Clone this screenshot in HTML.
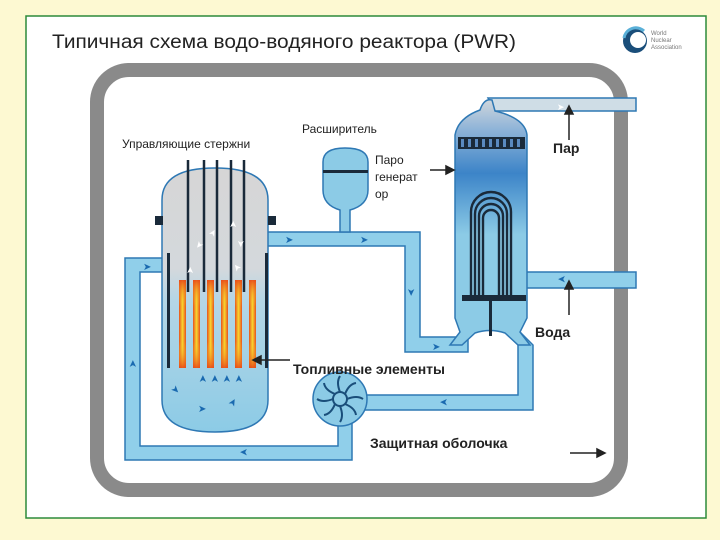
<!DOCTYPE html>
<html><head><meta charset="utf-8"><style>
html,body{margin:0;padding:0;background:#fdf9d2;}
svg{display:block;font-family:"Liberation Sans",sans-serif;}
</style></head><body>
<svg width="720" height="540" viewBox="0 0 720 540" xmlns="http://www.w3.org/2000/svg">
<defs>
<linearGradient id="rv" x1="0" y1="0" x2="0" y2="1">
<stop offset="0" stop-color="#d6d6d6"/><stop offset="0.38" stop-color="#d4d8dc"/><stop offset="0.5" stop-color="#b5d6e6"/><stop offset="1" stop-color="#8ccbe6"/></linearGradient>
<linearGradient id="fuel" x1="0" y1="0" x2="1" y2="0">
<stop offset="0" stop-color="#e8501c"/><stop offset="0.5" stop-color="#f8d830"/><stop offset="1" stop-color="#e8501c"/></linearGradient>
<linearGradient id="fuelv" x1="0" y1="0" x2="0" y2="1">
<stop offset="0" stop-color="#e84a18" stop-opacity="0.9"/><stop offset="0.3" stop-color="#f8d830" stop-opacity="0"/><stop offset="0.7" stop-color="#f8d830" stop-opacity="0"/><stop offset="1" stop-color="#e84a18" stop-opacity="0.9"/></linearGradient>
<linearGradient id="sg" x1="0" y1="0" x2="0" y2="1">
<stop offset="0" stop-color="#cfd6dc"/><stop offset="0.12" stop-color="#8fb4d8"/><stop offset="0.3" stop-color="#3c84c8"/><stop offset="0.55" stop-color="#8ccbe6"/><stop offset="1" stop-color="#8ccbe6"/></linearGradient>
</defs>
<rect x="26" y="16" width="680" height="502" fill="#fff" stroke="#2d8a3a" stroke-width="1.5"/>
<rect x="97" y="70" width="524" height="420" rx="32" fill="none" stroke="#8a8a8a" stroke-width="14"/>
<text x="52" y="48" font-size="19" fill="#222" textLength="464" lengthAdjust="spacingAndGlyphs">Типичная схема водо-водяного реактора (PWR)</text>
<circle cx="635" cy="41" r="12" fill="#1a4e7a"/><circle cx="638" cy="40" r="8" fill="#fff"/><path d="M624 38 a12 12 0 0 1 20 -7" stroke="#5ab0d8" stroke-width="3" fill="none"/>
<text x="651" y="35" font-size="6" fill="#777">World</text><text x="651" y="42" font-size="6" fill="#777">Nuclear</text><text x="651" y="49" font-size="6" fill="#777">Association</text>
<g fill="#90cfea" stroke="#2e78b4" stroke-width="1.5">
<path d="M125 258 H165 V272 H140 V446 H338 V420 H352 V460 H125 Z"/>
<path d="M265 232 H420 V337 H468 V352 H405 V246 H265 Z"/>
<path d="M518 330 L533 345 V410 H360 V395 H518 Z"/>
<path d="M525 272 H636 V288 H525 Z"/>
</g>
<path d="M488 98 H636 V111 H495 Z" fill="#cfdde6" stroke="#2e78b4" stroke-width="1.5"/>
<path d="M480 110 Q484 98 492 100 L495 111 Q525 118 527 135 V318 L520 332 L530 345 H518 L505 333 Q490 328 475 333 L462 345 H450 L460 332 L455 318 V135 Q458 118 480 110 Z" fill="url(#sg)" stroke="#2e78b4" stroke-width="1.5"/>
<g fill="#1a2a3a"><rect x="458" y="137" width="67" height="12"/></g>
<g fill="#5a8ac0"><rect x="461" y="139" width="3" height="8"/><rect x="468" y="139" width="3" height="8"/><rect x="475" y="139" width="3" height="8"/><rect x="482" y="139" width="3" height="8"/><rect x="489" y="139" width="3" height="8"/><rect x="496" y="139" width="3" height="8"/><rect x="503" y="139" width="3" height="8"/><rect x="510" y="139" width="3" height="8"/><rect x="517" y="139" width="3" height="8"/></g>
<g fill="none" stroke="#1a2a3a" stroke-width="2.4">
<path d="M471 298 V212 A20 20 0 0 1 511 212 V298"/>
<path d="M475 298 V214 A16 16 0 0 1 507 214 V298"/>
<path d="M479 298 V216 A12 12 0 0 1 503 216 V298"/>
<path d="M483 298 V218 A8 8 0 0 1 499 218 V298"/>
</g>
<rect x="462" y="295" width="64" height="6" fill="#1a2a3a"/>
<rect x="489" y="300" width="3" height="36" fill="#1a2a3a"/>
<path d="M340 220 V210 Q323 205 323 190 V162 Q323 148 345 148 Q368 148 368 162 V190 Q368 205 350 210 V232 H340 Z" fill="#8ccbe6" stroke="#2e78b4" stroke-width="1.5"/>
<rect x="323" y="170" width="45" height="3" fill="#1a2a3a"/>
<path d="M162 232 V200 Q162 168 215 168 Q268 168 268 200 V400 Q268 432 215 432 Q162 432 162 400 Z" fill="url(#rv)" stroke="#2e78b4" stroke-width="1.5"/>
<rect x="155" y="216" width="8" height="9" fill="#1a2a3a"/><rect x="268" y="216" width="8" height="9" fill="#1a2a3a"/>
<rect x="167" y="253" width="3" height="115" fill="#1a2a3a"/><rect x="265" y="253" width="3" height="115" fill="#1a2a3a"/>
<g>
<rect x="179" y="280" width="7" height="88" fill="url(#fuel)"/><rect x="193" y="280" width="7" height="88" fill="url(#fuel)"/><rect x="207" y="280" width="7" height="88" fill="url(#fuel)"/><rect x="221" y="280" width="7" height="88" fill="url(#fuel)"/><rect x="235" y="280" width="7" height="88" fill="url(#fuel)"/><rect x="249" y="280" width="7" height="88" fill="url(#fuel)"/>
<rect x="179" y="280" width="7" height="88" fill="url(#fuelv)"/><rect x="193" y="280" width="7" height="88" fill="url(#fuelv)"/><rect x="207" y="280" width="7" height="88" fill="url(#fuelv)"/><rect x="221" y="280" width="7" height="88" fill="url(#fuelv)"/><rect x="235" y="280" width="7" height="88" fill="url(#fuelv)"/><rect x="249" y="280" width="7" height="88" fill="url(#fuelv)"/>
</g>
<g stroke="#1a2a3a" stroke-width="2.5"><line x1="188" y1="160" x2="188" y2="292"/><line x1="204" y1="160" x2="204" y2="292"/><line x1="217" y1="160" x2="217" y2="292"/><line x1="231" y1="160" x2="231" y2="292"/><line x1="244" y1="160" x2="244" y2="292"/></g>
<circle cx="340" cy="399" r="27" fill="#8ccbe6" stroke="#2e78b4" stroke-width="1.5"/>
<circle cx="340" cy="399" r="7" fill="none" stroke="#1a4e7a" stroke-width="2"/>
<g stroke="#1a4e7a" stroke-width="2" fill="none">
<path d="M340 392 Q336 382 340 376"/><path d="M347 399 Q357 395 363 399"/><path d="M340 406 Q344 416 340 422"/><path d="M333 399 Q323 403 317 399"/>
<path d="M345 394 Q349 384 356 383"/><path d="M345 404 Q355 408 356 415"/><path d="M335 404 Q331 414 324 415"/><path d="M335 394 Q325 390 324 383"/>
</g>
<g fill="#1a6ab0" font-size="10">
<text x="285" y="243">➤</text><text x="360" y="243">➤</text><text x="432" y="350">➤</text><text x="143" y="270">➤</text>
<text x="408" y="296" transform="rotate(90 412 292)">➤</text>
<text x="440" y="407" transform="rotate(180 444 403)">➤</text>
<text x="240" y="457" transform="rotate(180 244 453)">➤</text>
<text x="128" y="368" transform="rotate(-90 132 364)">➤</text>
<text x="558" y="284" transform="rotate(180 562 280)">➤</text>
<text x="198" y="383" transform="rotate(-90 202 379)">➤</text><text x="210" y="383" transform="rotate(-90 214 379)">➤</text><text x="222" y="383" transform="rotate(-90 226 379)">➤</text><text x="234" y="383" transform="rotate(-90 238 379)">➤</text>
<text x="198" y="412">➤</text><text x="172" y="393" transform="rotate(45 176 389)">➤</text><text x="228" y="406" transform="rotate(-60 232 402)">➤</text>
</g>
<text x="557" y="110" font-size="9" fill="#fff">➤</text>
<g fill="#fff" font-size="9"><text x="228" y="228" transform="rotate(-90 232 224)">➤</text><text x="208" y="236" transform="rotate(-60 212 232)">➤</text><text x="185" y="274" transform="rotate(-90 189 270)">➤</text><text x="196" y="250" transform="rotate(130 200 246)">➤</text><text x="238" y="248" transform="rotate(90 242 244)">➤</text><text x="232" y="272" transform="rotate(-130 236 268)">➤</text></g>
<g stroke="#222" stroke-width="1.5" fill="#222">
<line x1="430" y1="170" x2="448" y2="170"/><path d="M454 170 L446 166 L446 174 Z"/>
<line x1="569" y1="140" x2="569" y2="113"/><path d="M569 106 L565 114 L573 114 Z"/>
<line x1="569" y1="315" x2="569" y2="288"/><path d="M569 281 L565 289 L573 289 Z"/>
<line x1="290" y1="360" x2="260" y2="360"/><path d="M253 360 L261 356 L261 364 Z"/>
<line x1="570" y1="453" x2="598" y2="453"/><path d="M605 453 L597 449 L597 457 Z"/>
</g>
<g fill="#222">
<text x="122" y="148" font-size="12">Управляющие стержни</text>
<text x="302" y="133" font-size="12">Расширитель</text>
<text x="375" y="164" font-size="12">Паро</text><text x="375" y="181" font-size="12">генерат</text><text x="375" y="198" font-size="12">ор</text>
<text x="553" y="153" font-size="14" font-weight="bold">Пар</text>
<text x="535" y="337" font-size="14" font-weight="bold">Вода</text>
<text x="293" y="374" font-size="14" font-weight="bold">Топливные элементы</text>
<text x="370" y="448" font-size="14" font-weight="bold">Защитная оболочка</text>
</g>
</svg>
</body></html>
